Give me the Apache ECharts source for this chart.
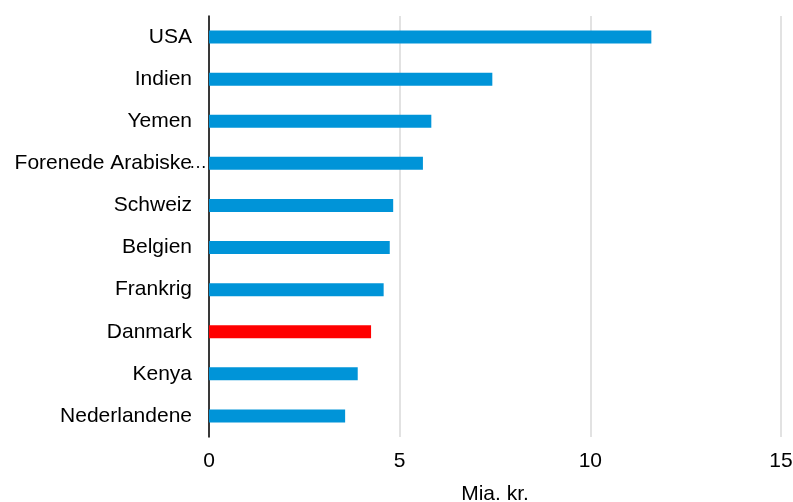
<!DOCTYPE html>
<html>
<head>
<meta charset="utf-8">
<script src="https://cdn.jsdelivr.net/npm/echarts@6/dist/echarts.min.js"></script>
<style>html,body{margin:0;padding:0;background:#fff}#c{width:793px;height:502px}</style>
</head>
<body>
<div id="c"></div>
<script>
const categories = ["USA","Indien","Yemen","Forenede Arabiske Emirater","Schweiz","Belgien","Frankrig","Danmark","Kenya","Nederlandene"];
const values = [11.6, 7.43, 5.83, 5.61, 4.83, 4.74, 4.58, 4.25, 3.9, 3.57];
const highlight = "Danmark";
const xTicks = [0, 5, 10, 15];
const axisTitle = "Mia. kr.";

const fontFamily = '"Liberation Sans", Arial, sans-serif';
const fontSize = 21;
const maxLabelWidth = 186;

const measureCtx = document.createElement('canvas').getContext('2d');
measureCtx.font = fontSize + 'px ' + fontFamily;
function fmtLabel(name) {
  if (measureCtx.measureText(name).width <= maxLabelWidth) return '{a|' + name + '}{p|}';
  let s = name;
  while (s.length > 1 && measureCtx.measureText(s).width > maxLabelWidth) s = s.slice(0, -1);
  return '{a|' + s.trimEnd() + '}{e|…}';
}

const chart = echarts.init(document.getElementById('c'), null, {renderer: 'canvas'});
chart.setOption({
  animation: false,
  grid: {left: 209, right: 12, top: 16, bottom: 65, containLabel: false, outerBoundsMode: 'none'},
  xAxis: {
    type: 'value', min: xTicks[0], max: xTicks[xTicks.length-1], interval: 5,
    name: axisTitle, nameLocation: 'middle', nameGap: 47,
    nameTextStyle: {fontFamily: fontFamily, fontSize: fontSize, color: '#000'},
    axisLine: {show: false}, axisTick: {show: false},
    axisLabel: {fontFamily: fontFamily, fontSize: fontSize, color: '#000', margin: 14},
    splitLine: {show: true, lineStyle: {color: '#d9d9d9', width: 1.5}}
  },
  yAxis: {
    type: 'category', data: categories, inverse: true,
    axisLine: {show: true, lineStyle: {color: '#000', width: 1.5}},
    axisTick: {show: false},
    axisLabel: {
      margin: 2,
      formatter: fmtLabel,
      rich: {
        a: {fontFamily: fontFamily, fontSize: fontSize, color: '#000'},
        p: {width: 15, fontSize: fontSize},
        e: {fontFamily: fontFamily, fontSize: 18, color: '#000', width: 15}
      }
    }
  },
  series: [{
    type: 'bar', barWidth: 13,
    data: categories.map((c, i) => ({value: values[i], itemStyle: {color: c === highlight ? '#ff0000' : '#0094d8'}})),
    z: 3
  }]
});
</script>
</body>
</html>
